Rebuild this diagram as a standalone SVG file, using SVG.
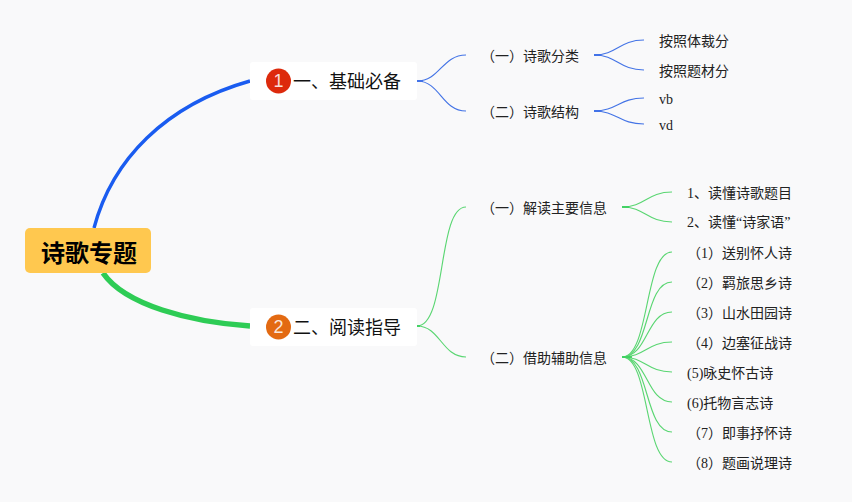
<svg xmlns="http://www.w3.org/2000/svg" width="852" height="502" viewBox="0 0 852 502">
<style>
text{font-family:"Liberation Serif","Noto Sans CJK SC",serif;dominant-baseline:central}
.t{font-size:14px;fill:#222}
.b{font-size:18px;fill:#111}
.r{font-size:24px;font-weight:700;fill:#000;font-family:"Noto Sans CJK SC",sans-serif}
.n{font-size:18px;fill:#fff;fill-opacity:.85;text-anchor:middle;font-family:"Liberation Sans",sans-serif}
#connectors path{fill:none;stroke-linecap:butt}
.bl{stroke:#4474e6;stroke-width:1.150}
.gr{stroke:#5ad672;stroke-width:1.150}
.bs{stroke:#3f70e8;stroke-width:1.800}
.gs{stroke:#3fd161;stroke-width:1.800}
</style>
<rect width="852" height="502" fill="#f9f9fa"/>
<g id="connectors">
<path d="M94 228C112 160 165 105 250 81" stroke="#1a5cf0" stroke-width="3.400"/>
<path d="M103 273C125 305 190 322 250 326" stroke="#2ecc55" stroke-width="5.500"/>
<path class="bl" d="M417 81C440 81 442 55 466 55"/>
<path class="bl" d="M417 81C440 81 442 111 466 111"/>
<path class="bs" d="M417 81H423"/>
<path class="bl" d="M594 55C617 55 619 40 644 40"/>
<path class="bl" d="M594 55C617 55 619 70 644 70"/>
<path class="bs" d="M594 55H601"/>
<path class="bl" d="M594 111C617 111 619 98 644 98"/>
<path class="bl" d="M594 111C617 111 619 124 644 124"/>
<path class="bs" d="M594 111H601"/>
<path class="gr" d="M417 326C447 326 437 207 466 207"/>
<path class="gr" d="M417 326C440 326 442 357 466 357"/>
<path class="gs" d="M417 326H420"/>
<path class="gr" d="M622 207C645 207 647 192 672 192"/>
<path class="gr" d="M622 207C645 207 647 222 672 222"/>
<path class="gs" d="M622 207H629"/>
<path class="gr" d="M622 357C650 357 644 252 672 252"/>
<path class="gr" d="M622 357C650 357 644 282 672 282"/>
<path class="gr" d="M622 357C648 357 646 312 672 312"/>
<path class="gr" d="M622 357C645 357 647 342 672 342"/>
<path class="gr" d="M622 357C645 357 647 372 672 372"/>
<path class="gr" d="M622 357C648 357 646 402 672 402"/>
<path class="gr" d="M622 357C650 357 644 432 672 432"/>
<path class="gr" d="M622 357C650 357 644 462 672 462"/>
<path class="gs" d="M622 357H632"/>
</g>
<g id="root"><rect x="25" y="228" width="126" height="45" rx="5" fill="#ffc84f"/><text class="r" x="41" y="251.500">诗歌专题</text></g>
<g id="b1"><rect x="250" y="62" width="167" height="38" rx="3" fill="#fff"/><circle cx="278.500" cy="81" r="12.500" fill="#dd2a0c"/><text class="n" x="278.500" y="81">1</text><text class="b" x="293" y="82">一、基础必备</text></g>
<g id="b2"><rect x="250" y="308" width="167" height="38" rx="3" fill="#fff"/><circle cx="278.500" cy="327" r="12.500" fill="#e36a12"/><text class="n" x="278.500" y="327">2</text><text class="b" x="293" y="328">二、阅读指导</text></g>
<g id="s1"><text class="t" x="481" y="56">（一）诗歌分类</text></g>
<g id="s2"><text class="t" x="481" y="112">（二）诗歌结构</text></g>
<g id="s3"><text class="t" x="481" y="208">（一）解读主要信息</text></g>
<g id="s4"><text class="t" x="481" y="358">（二）借助辅助信息</text></g>
<g id="l1"><text class="t" x="659" y="41">按照体裁分</text></g>
<g id="l2"><text class="t" x="659" y="71">按照题材分</text></g>
<g id="l3"><text class="t" x="659" y="99">vb</text></g>
<g id="l4"><text class="t" x="659" y="125">vd</text></g>
<g id="l5"><text class="t" x="687" y="193">1、读懂诗歌题目</text></g>
<g id="l6"><text class="t" x="687" y="222">2、读懂“诗家语”</text></g>
<g id="l7"><text class="t" x="687" y="253">（1）送别怀人诗</text></g>
<g id="l8"><text class="t" x="687" y="283">（2）羁旅思乡诗</text></g>
<g id="l9"><text class="t" x="687" y="313">（3）山水田园诗</text></g>
<g id="l10"><text class="t" x="687" y="343">（4）边塞征战诗</text></g>
<g id="l11"><text class="t" x="687" y="373">(5)咏史怀古诗</text></g>
<g id="l12"><text class="t" x="687" y="403">(6)托物言志诗</text></g>
<g id="l13"><text class="t" x="687" y="433">（7）即事抒怀诗</text></g>
<g id="l14"><text class="t" x="687" y="463">（8）题画说理诗</text></g>
</svg>
